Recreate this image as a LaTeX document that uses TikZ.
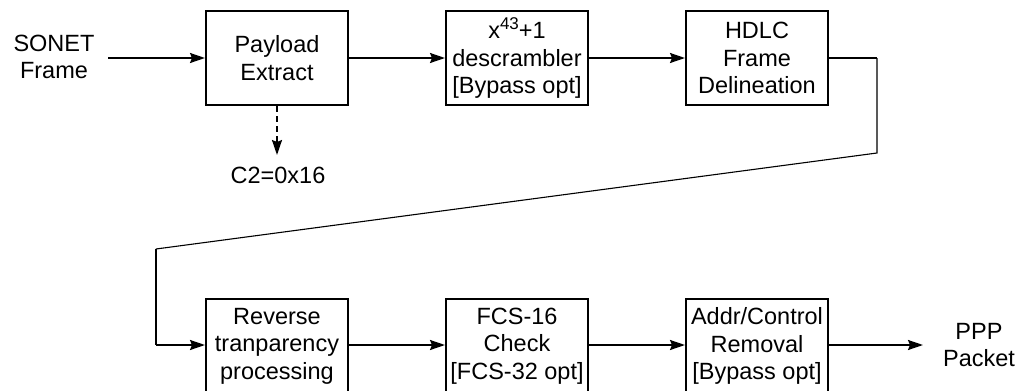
\documentclass[tikz,border=0pt]{standalone}
\usepackage{fontspec}
\setmainfont{Liberation Sans}
\usetikzlibrary{arrows.meta}
\begin{document}
\begin{tikzpicture}[x=1pt,y=-1pt,
  blk/.style={draw,line width=2pt,minimum width=142pt,minimum height=94pt,align=center,inner sep=0pt,font=\fontsize{23.5}{27.5}\selectfont},
  lbl/.style={align=center,inner sep=0pt,font=\fontsize{23.5}{27.5}\selectfont},
  arr/.style={line width=1.8pt,-{Stealth[length=15pt,width=10pt,inset=2pt]}},
  dasharr/.style={arr,dash pattern=on 6pt off 4pt},
  plain/.style={line width=1.8pt},
  thinline/.style={line width=1.1pt}]
\useasboundingbox (0,0) rectangle (1021,391);
% top row
\node[lbl] (sonet) at (54,57) {SONET\\Frame};
\node[blk] (pe) at (277,58) {Payload\\Extract};
\node[blk] (ds) at (517,58) {x\raisebox{0.42em}{\fontsize{17}{17}\selectfont 43}+1\\descrambler\\{}[Bypass opt]};
\node[blk] (hdlc) at (757,58) {HDLC\\Frame\\Delineation};
\node[lbl] (c2) at (278,175) {C2=0x16};
% bottom row
\node[blk] (rev) at (277,346) {Reverse\\tranparency\\processing};
\node[blk] (fcs) at (517,346) {FCS-16\\Check\\{}[FCS-32 opt]};
\node[blk] (addr) at (757,346) {Addr/Control\\Removal\\{}[Bypass opt]};
\node[lbl] (ppp) at (979,345) {PPP\\Packet};
% bend points
\coordinate (b1) at (877,58);
\coordinate (b2) at (877,153);
\coordinate (b3) at (156,249);
\coordinate (b4) at (156,345);
\coordinate (sonetend) at (108,58);
\coordinate (pppend) at (923,345);
\coordinate (c2end) at (277,155);
% connectors
\draw[arr] (sonetend) -- (pe.west);
\draw[arr] (pe.east) -- (ds.west);
\draw[arr] (ds.east) -- (hdlc.west);
\draw[dasharr] (pe.south) -- (c2end);
\draw[plain] (hdlc.east) -- (b1);
\draw[thinline] (b1) -- (b2) -- (b3);
\draw[plain] (b3) -- (b4);
\draw[arr] (b4) -- (rev.west |- b4);
\draw[arr] (rev.east |- b4) -- (fcs.west |- b4);
\draw[arr] (fcs.east |- b4) -- (addr.west |- b4);
\draw[arr] (addr.east |- b4) -- (pppend);
\end{tikzpicture}
\end{document}
